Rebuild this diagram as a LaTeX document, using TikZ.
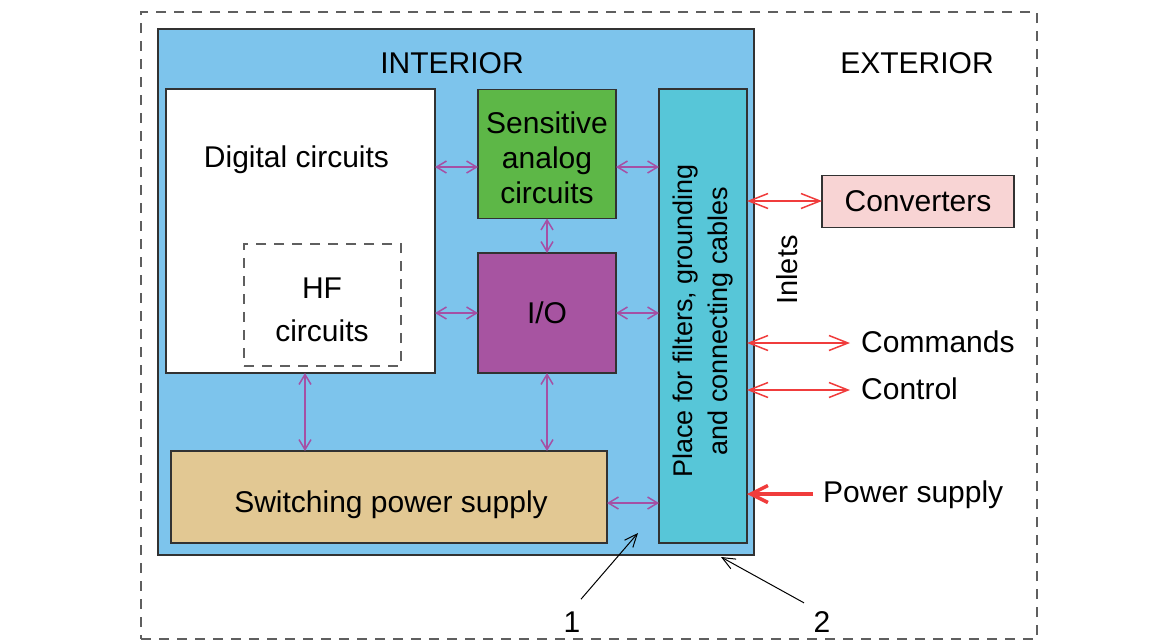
\documentclass[tikz,border=0pt]{standalone}
\usepackage{fontspec}
\setmainfont{Liberation Sans}
\usetikzlibrary{arrows.meta,calc}
\definecolor{interiorblue}{RGB}{125,196,236}
\definecolor{sensgreen}{RGB}{93,183,71}
\definecolor{iopurple}{RGB}{167,84,161}
\definecolor{filtcyan}{RGB}{87,198,216}
\definecolor{suptan}{RGB}{226,200,147}
\definecolor{convpink}{RGB}{248,212,212}
\definecolor{arrpurple}{RGB}{165,80,165}
\definecolor{arrred}{RGB}{240,60,60}
\definecolor{edgegray}{RGB}{50,50,50}
\definecolor{dashgray}{RGB}{95,95,95}
\begin{document}
\begin{tikzpicture}[x=1pt,y=-1pt,
  box/.style={draw=edgegray,line width=1.3pt,inner sep=0pt,outer sep=0pt,rectangle},
  txt/.style={font=\fontsize{30}{35}\selectfont,align=center,inner sep=0pt,text=black},
  btxt/.style={font=\fontsize{30}{35}\selectfont,inner sep=0pt,text=black,anchor=base},
  parr/.style={draw=arrpurple,line width=1.5pt,{Straight Barb[length=10pt,width=12pt]}-{Straight Barb[length=10pt,width=12pt]}},
  rarr/.style={draw=arrred,line width=1.5pt,{Straight Barb[length=19pt,width=15pt]}-{Straight Barb[length=19pt,width=15pt]}},
  pointer/.style={draw=black,line width=1pt,-{Straight Barb[length=13pt,width=11pt]}}
]
\useasboundingbox (0,0) rectangle (1164,641);
% outer dashed border
\node[draw=dashgray,line width=1.5pt,dash pattern=on 10pt off 8pt,inner sep=0pt,outer sep=0pt,
      minimum width=896pt,minimum height=627pt] (outer) at (589,325.5) {};
% interior
\node[box,fill=interiorblue,minimum width=596pt,minimum height=526pt] (interior) at (456,292) {};
\node[btxt] (intlabel) at (452,73) {INTERIOR};
\node[btxt] (extlabel) at (917,73) {EXTERIOR};
% digital circuits
\node[box,fill=white,minimum width=269pt,minimum height=284pt] (dig) at (300.5,231) {};
\node[btxt] (diglabel) at (296.5,167) {Digital circuits};
% HF circuits
\node[draw=dashgray,line width=1.5pt,dash pattern=on 10pt off 8pt,inner sep=0pt,outer sep=0pt,
      minimum width=157pt,minimum height=122pt] (hf) at (322.5,305) {};
\node[font=\fontsize{30}{43}\selectfont,align=center,inner sep=0pt] (hflabel) at (322,310) {HF\\circuits};
% sensitive analog
\node[box,fill=sensgreen,minimum width=138pt,minimum height=129pt] (sens) at (547,154) {};
\node[txt] (senslabel) at (547,157.5) {Sensitive\\analog\\circuits};
% I/O
\node[box,fill=iopurple,minimum width=138pt,minimum height=120pt,txt] (io) at (547,313) {I/O};
% switching power supply
\node[box,fill=suptan,minimum width=436pt,minimum height=92pt] (sps) at (389,497) {};
\node[btxt] (spslabel) at (391,512) {Switching power supply};
% filters place
\node[box,fill=filtcyan,minimum width=88pt,minimum height=454pt] (filt) at (703,316) {};
\node[font=\fontsize{27}{35}\selectfont,align=center,inner sep=0pt,rotate=90] (filtlabel) at (703,321)
  {Place for filters, grounding\\and connecting cables};
% inlets
\node[font=\fontsize{29}{35}\selectfont,inner sep=0pt,rotate=90] (inlets) at (787,270) {Inlets};
% converters
\node[box,fill=convpink,minimum width=192pt,minimum height=52pt] (conv) at (918,201.5) {};
\node[btxt] (convlabel) at (918,211) {Converters};
% exterior signal labels
\node[btxt,anchor=base west] (cmd) at (861,352) {Commands};
\node[btxt,anchor=base west] (ctrl) at (861,399) {Control};
\node[btxt,anchor=base west] (pwr) at (823,502) {Power supply};
% numbered labels
\node[btxt] (n1) at (572,632) {1};
\node[btxt] (n2) at (822,632) {2};
% row / column helper coordinates
\coordinate (r1) at (0,167);
\coordinate (r2) at (0,313);
\coordinate (r3) at (0,503);
\coordinate (c1) at (305,0);
\coordinate (c2) at (547,0);
\coordinate (rc) at (0,201);
\coordinate (rcmd) at (0,343);
\coordinate (rctrl) at (0,390);
\coordinate (rpwr) at (0,494);
% purple internal connectors
\draw[parr] (dig.east |- r1) -- (sens.west |- r1);
\draw[parr] (sens.east |- r1) -- (filt.west |- r1);
\draw[parr] (sens.south) -- (io.north);
\draw[parr] (dig.east |- r2) -- (io.west |- r2);
\draw[parr] (io.east |- r2) -- (filt.west |- r2);
\draw[parr] (dig.south -| c1) -- (sps.north -| c1);
\draw[parr] (io.south -| c2) -- (sps.north -| c2);
\draw[parr] (sps.east |- r3) -- (filt.west |- r3);
% red exterior connectors
\draw[rarr] (filt.east |- rc) -- (conv.west |- rc);
\draw[rarr] (filt.east |- rcmd) -- ([xshift=-11pt]cmd.base west |- rcmd);
\draw[rarr] (filt.east |- rctrl) -- ([xshift=-11pt]ctrl.base west |- rctrl);
\draw[draw=arrred,line width=3.5pt,-{Straight Barb[length=17pt,width=17pt]}]
  ([xshift=-10pt]pwr.base west |- rpwr) -- (filt.east |- rpwr);
% pointers
\coordinate (p1) at (638,533);
\coordinate (p2) at (721,557);
\draw[pointer] ($(n1.north)+(9,-12)$) -- (p1);
\draw[pointer] ($(n2.north)+(-18,-8)$) -- (p2);
\end{tikzpicture}
\end{document}
